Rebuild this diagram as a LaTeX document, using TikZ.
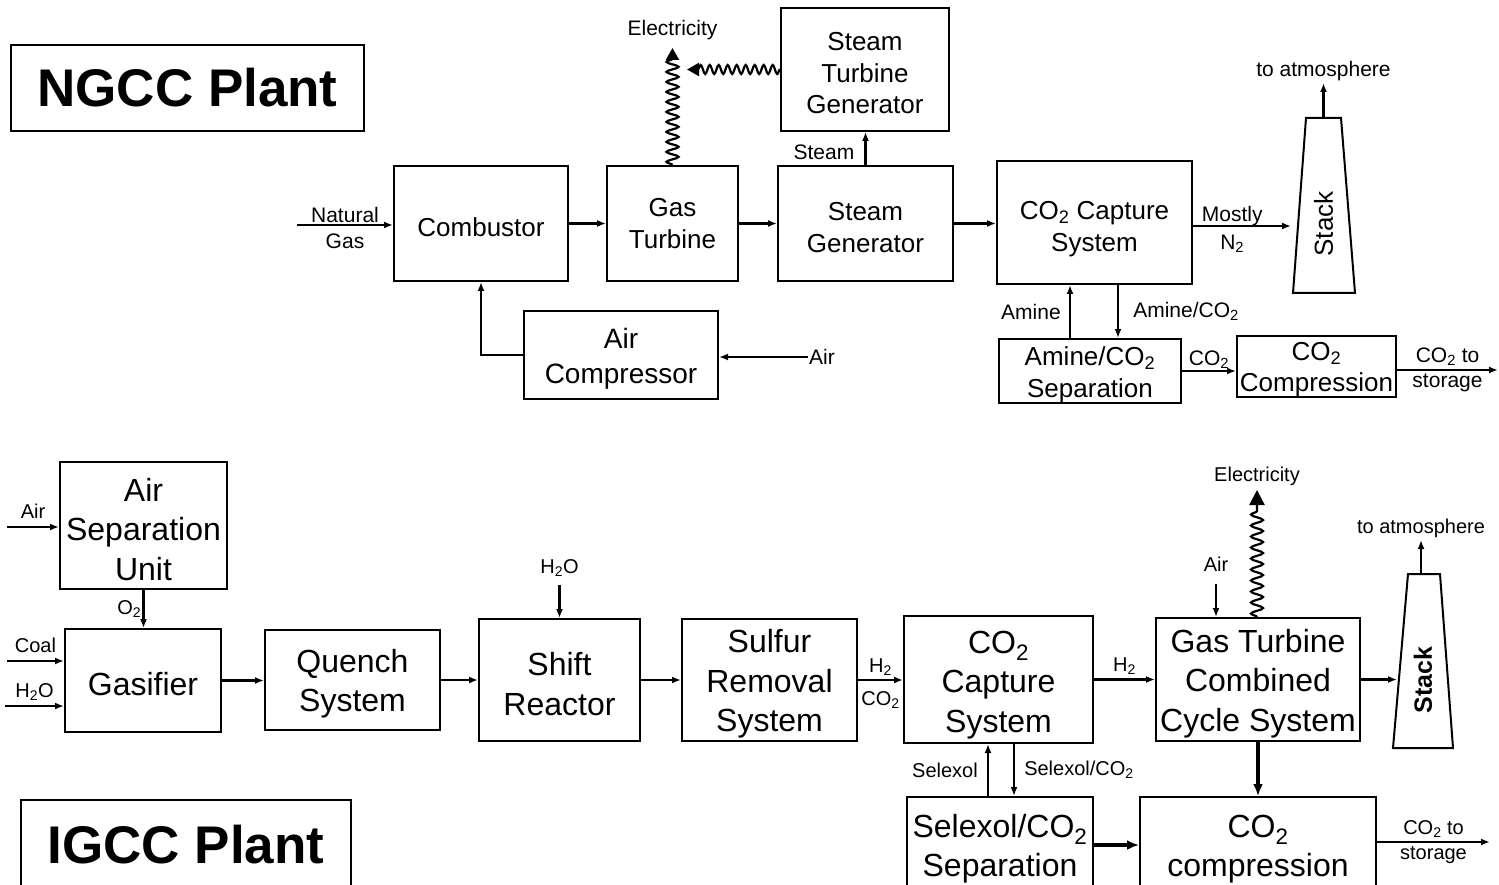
\documentclass[tikz,border=0pt]{standalone}
\usepackage{fontspec}
\setmainfont{Liberation Sans}
\usepackage{tikz}
\usetikzlibrary{arrows.meta,positioning,decorations.pathmorphing}
\newcommand{\cotwo}{CO\textsubscript{2}}
\newcommand{\topgap}[1][26pt]{\rule{0pt}{#1}}

\begin{document}
\begin{tikzpicture}[x=1pt, y=-1pt,
	box/.style={draw, line width=2pt, align=center, inner sep=0pt},
	ngtxt/.style={font=\fontsize{26}{31.5}\selectfont},
	igtxt/.style={font=\fontsize{32}{39.5}\selectfont},
	lbl/.style={font=\fontsize{21}{24}\selectfont, inner sep=1pt, align=center},
	iglbl/.style={font=\fontsize{20}{23}\selectfont, inner sep=1pt, align=center},
	title/.style={draw, line width=2pt, inner sep=0pt, font=\fontsize{53}{60}\selectfont\bfseries},
	stacktxt/.style={rotate=90, inner sep=0pt},
	flow/.style={line width=2.5pt, -{Latex[length=9pt,width=7pt]}},
	bigflow/.style={line width=3.5pt, -{Latex[length=12pt,width=10pt]}},
	power/.style={line width=2.2pt, decorate, decoration={snake, amplitude=6pt, segment length=10pt, post length=10pt}, -{Triangle[length=12pt,width=13pt]}}]
	\useasboundingbox (0,0) rectangle (1499,885);
	\clip (0,0) rectangle (1499,885);
	% NGCC plant
	\node [title, minimum width=353pt, minimum height=86pt](ngcc_node) at (187.5,88) {NGCC Plant};
	\node [box, ngtxt, minimum width=174pt, minimum height=115pt](combustor_node) at (481,223.5) {\topgap Combustor};
	\node [box, ngtxt, minimum width=131pt, minimum height=115pt](gasturb_node) at (672.5,223.5) {Gas\\Turbine};
	\node [box, ngtxt, minimum width=175pt, minimum height=115pt](steamgen_node) at (865.5,223.5) {\topgap Steam\\Generator};
	\node [box, ngtxt, minimum width=168pt, minimum height=123pt](stg_node) at (865,69.5) {\topgap Steam\\Turbine\\Generator};
	\node [box, ngtxt, minimum width=195pt, minimum height=123pt](capture1_node) at (1094.5,222.5) {\topgap[31pt]\cotwo{} Capture\\System};
	\node [box, font=\fontsize{28}{35}\selectfont, minimum width=194pt, minimum height=88pt](aircomp_node) at (621,355) {\topgap[28pt]Air\\Compressor};
	\node [box, ngtxt, minimum width=182pt, minimum height=64pt](aminesep_node) at (1090,371) {\topgap Amine/\cotwo\\Separation};
	\node [box, ngtxt, minimum width=159pt, minimum height=57pt](comp1_node) at (1316.5,366.5) {\topgap[24pt]\cotwo\\Compression};
	\draw [line width=2pt] (1306,118) -- (1341,118) -- (1355,293) -- (1293,293) -- cycle;
	\node [stacktxt, font=\fontsize{26}{28}\selectfont](stack1_node) at (1323.5,224) {Stack};
	\coordinate (stack1_in) at (1291,226);
	\coordinate (stack1_top) at (1323.5,118);
	\coordinate (atm1_out) at (1323.5,83);
	\coordinate (ng_in) at (297,225);
	\draw [flow] (ng_in) -- (ng_in -| combustor_node.west) node [lbl, midway, above] {Natural} node [lbl, midway, below=7pt] {Gas};
	\draw [flow] (combustor_node) -- (gasturb_node);
	\draw [flow] (gasturb_node) -- (steamgen_node);
	\draw [flow] (steamgen_node.east) -- (steamgen_node.east -| capture1_node.west);
	\draw [flow] (capture1_node.east |- stack1_in) -- (stack1_in) node [lbl, pos=0.4, above=-2pt] {Mostly} node [lbl, pos=0.4, below=6.5pt] {N\textsubscript{2}};
	\draw [flow] (stack1_top) -- (atm1_out) node [lbl, above] {to atmosphere};
	\draw [flow] (steamgen_node.north) -- (steamgen_node.north |- stg_node.south) node [lbl, pos=0.4, left=9pt] {Steam};
	\coordinate (elec1_tip) at (672.5,48);
	\node [lbl, above=7pt of elec1_tip](elec1_node) {Electricity};
	\draw [power] (gasturb_node.north) -- (elec1_tip);
	\coordinate (stgel_tip) at (687,69.5);
	\draw [power, decoration={amplitude=4.5pt, segment length=9pt}] (stg_node.west) -- (stgel_tip);
	\draw [flow] (aircomp_node.west) -| (combustor_node.south);
	\node [lbl](air1_node) at (822,357) {Air};
	\draw [flow] (air1_node.west) -- (air1_node.west -| aircomp_node.east);
	\coordinate (amine_up) at (1070,339);
	\draw [flow] (amine_up) -- (amine_up |- capture1_node.south) node [lbl, midway, left=7pt] {Amine};
	\coordinate (amine_down) at (1118,284);
	\draw [flow] (amine_down) -- (amine_down |- aminesep_node.north) node [lbl, midway, right=13pt] {Amine/\cotwo};
	\draw [flow] (aminesep_node.east) -- (aminesep_node.east -| comp1_node.west) node [lbl, midway, above] {\cotwo};
	\coordinate (store1_out) at (1498,370);
	\draw [flow] (comp1_node.east |- store1_out) -- (store1_out) node [lbl, midway, above=2pt] {\cotwo{} to} node [lbl, midway, below=2pt] {storage};
	% IGCC plant
	\node [title, minimum width=330pt, minimum height=90pt](igcc_node) at (186,845) {IGCC Plant};
	\node [box, igtxt, minimum width=167pt, minimum height=127pt](asu_node) at (143.5,525.5) {\topgap[31pt]Air\\Separation\\Unit};
	\node [box, igtxt, minimum width=156pt, minimum height=103pt](gasifier_node) at (143,680.5) {\topgap[31pt]Gasifier};
	\node [box, igtxt, minimum width=175pt, minimum height=100pt](quench_node) at (352.5,680) {\topgap[31pt]Quench\\System};
	\node [box, igtxt, minimum width=161pt, minimum height=122pt](shift_node) at (559.5,680) {\topgap[31pt]Shift\\Reactor};
	\node [box, igtxt, minimum width=175pt, minimum height=122pt](sulfur_node) at (769.5,680) {\topgap[31pt]Sulfur\\Removal\\System};
	\node [box, igtxt, minimum width=189pt, minimum height=127pt](capture2_node) at (998.5,679.5) {\topgap[33pt]\cotwo\\Capture\\System};
	\node [box, igtxt, minimum width=204pt, minimum height=123pt](gtcc_node) at (1258,679.5) {\topgap[31pt]Gas Turbine\\Combined\\Cycle System};
	\node [box, igtxt, minimum width=186pt, minimum height=96pt](selsep_node) at (1000,845) {\topgap[31pt]Selexol/\cotwo\\Separation};
	\node [box, igtxt, minimum width=236pt, minimum height=96pt](comp2_node) at (1258,845) {\topgap[31pt]\cotwo\\compression};
	\draw [line width=2pt] (1408,574) -- (1440,574) -- (1453,748) -- (1393,748) -- cycle;
	\node [stacktxt, font=\fontsize{25}{28}\selectfont\bfseries](stack2_node) at (1423,680) {Stack};
	\coordinate (air2_in) at (7,527);
	\draw [flow] (air2_in) -- (air2_in -| asu_node.west) node [iglbl, midway, above=6pt] {Air};
	\draw [flow] (asu_node.south) -- (asu_node.south |- gasifier_node.north) node [iglbl, midway, left] {O\textsubscript{2}};
	\coordinate (coal_in) at (7,661);
	\draw [flow] (coal_in) -- (coal_in -| gasifier_node.west) node [iglbl, midway, above=6pt] {Coal};
	\coordinate (water1_in) at (5,706);
	\draw [flow] (water1_in) -- (water1_in -| gasifier_node.west) node [iglbl, midway, above=3pt] {H\textsubscript{2}O};
	\draw [flow] (gasifier_node.east) -- (gasifier_node.east -| quench_node.west);
	\draw [flow] (quench_node.east) -- (quench_node.east -| shift_node.west);
	\coordinate (water2_in) at (559.5,585);
	\draw [flow] (water2_in) node [iglbl, above=6pt] {H\textsubscript{2}O} -- (shift_node.north);
	\draw [flow] (shift_node) -- (sulfur_node);
	\draw [flow] (sulfur_node.east) -- (sulfur_node.east -| capture2_node.west) node [iglbl, midway, above=2pt] {H\textsubscript{2}} node [iglbl, midway, below=9pt] {\cotwo};
	\draw [flow] (capture2_node.east) -- (capture2_node.east -| gtcc_node.west) node [iglbl, midway, above=3pt] {H\textsubscript{2}};
	\coordinate (stack2_in) at (1397,679.5);
	\draw [flow] (gtcc_node.east) -- (stack2_in);
	\coordinate (stack2_top) at (1421,574);
	\coordinate (atm2_out) at (1421,540);
	\draw [flow] (stack2_top) -- (atm2_out) node [iglbl, above] {to atmosphere};
	\coordinate (air3_in) at (1216,584);
	\draw [flow] (air3_in) node [iglbl, above=10pt] {Air} -- (air3_in |- gtcc_node.north);
	\coordinate (elec2_tip) at (1257,490);
	\node [iglbl, above=3pt of elec2_tip](elec2_node) {Electricity};
	\draw [power, -{Triangle[length=15pt,width=15pt]}, decoration={amplitude=6pt, segment length=11pt, post length=16pt}] (elec2_tip |- gtcc_node.north) -- (elec2_tip);
	\draw [bigflow] (gtcc_node) -- (comp2_node);
	\coordinate (selexol_up) at (988,797);
	\draw [flow] (selexol_up) -- (selexol_up |- capture2_node.south) node [iglbl, midway, left=8pt] {Selexol};
	\coordinate (selexol_down) at (1014,743);
	\draw [flow] (selexol_down) -- (selexol_down |- selsep_node.north) node [iglbl, midway, right=8pt] {Selexol/\cotwo};
	\draw [bigflow] (selsep_node.east) -- (selsep_node.east -| comp2_node.west);
	\coordinate (store2_out) at (1490,842);
	\draw [flow] (comp2_node.east |- store2_out) -- (store2_out) node [iglbl, midway, above=2pt] {\cotwo{} to} node [iglbl, midway, below=2pt] {storage};
\end{tikzpicture}
\end{document}
